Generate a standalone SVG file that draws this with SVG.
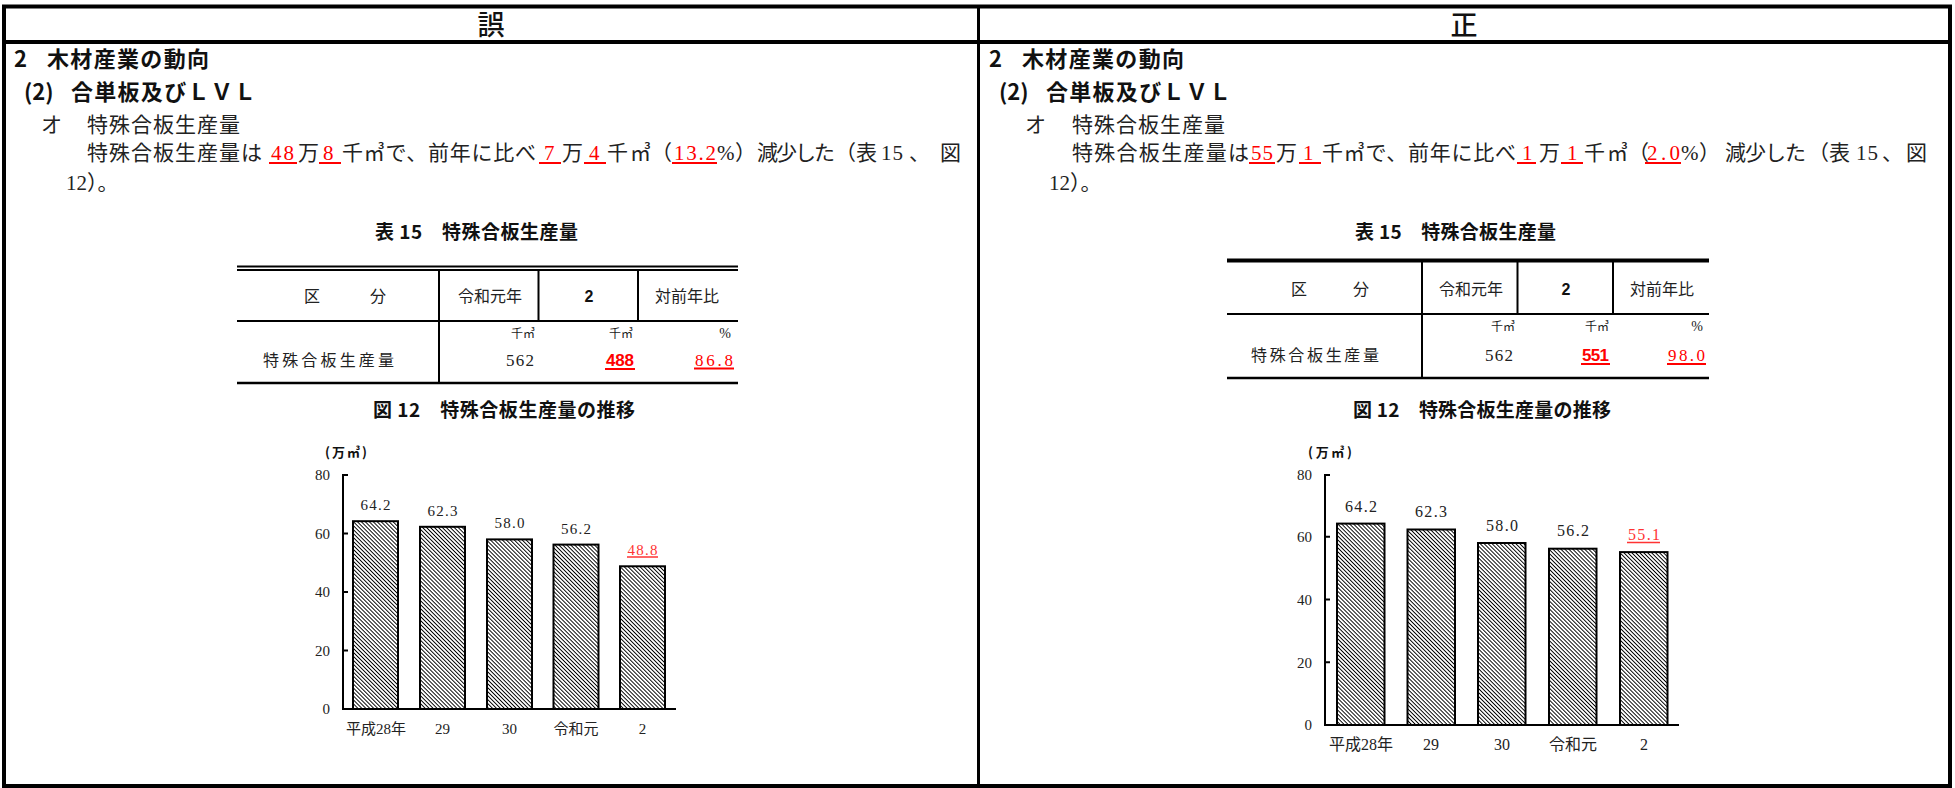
<svg xmlns="http://www.w3.org/2000/svg" width="1955" height="788" viewBox="0 0 1955 788">
<defs>
<style>
.g{font-family:"Noto Sans CJK JP",sans-serif;fill:#111}
.gb{font-family:"Noto Sans CJK JP",sans-serif;font-weight:700;fill:#111}
.m{font-family:"Liberation Serif","Noto Sans CJK JP",serif;fill:#222}
.r{fill:#f00}
.rc{fill:#f33}
.ul{stroke:#f00;stroke-width:2}
.ulc{stroke:#f33;stroke-width:1.5}
.ln{stroke:#000;fill:none}
.bar{fill:url(#hatch);stroke:#000;stroke-width:2}
.num{font-family:"Liberation Sans",sans-serif;font-weight:700}
</style>
<pattern id="hatch" width="2.8" height="2.8" patternUnits="userSpaceOnUse" patternTransform="rotate(-45)">
<rect width="2.8" height="2.8" fill="#fff"/>
<line x1="1.4" y1="0" x2="1.4" y2="2.8" stroke="#000" stroke-width="0.95"/>
</pattern>
</defs>
<rect width="1955" height="788" fill="#fff"/>

<g id="frame">
<rect x="4" y="6.5" width="1946" height="779.5" class="ln" stroke-width="4"/>
<line x1="4" y1="42" x2="1950" y2="42" class="ln" stroke-width="4"/>
<line x1="978.5" y1="6" x2="978.5" y2="786" class="ln" stroke-width="3"/>
</g>

<g id="header-left"><text x="491" y="35" text-anchor="middle" class="g" font-size="27" font-weight="500">誤</text></g>
<g id="header-right"><text x="1464" y="35" text-anchor="middle" class="g" font-size="27" font-weight="500">正</text></g>

<!-- LEFT PANEL -->
<g id="left-text">
<text class="gb" font-size="22" y="67"><tspan x="14">2</tspan><tspan x="47" textLength="162">木材産業の動向</tspan></text>
<text class="gb" font-size="22" y="100"><tspan x="24">(2)</tspan><tspan x="71" textLength="185">合単板及びＬＶＬ</tspan></text>
<text class="m" font-size="21" y="132"><tspan x="41">オ</tspan><tspan x="87" textLength="153">特殊合板生産量</tspan></text>
<text class="m" font-size="21" y="160"><tspan x="87" textLength="175">特殊合板生産量は</tspan><tspan x="271" class="r" textLength="23">48</tspan><tspan x="298">万</tspan><tspan x="323" class="r">8</tspan><tspan x="342" textLength="194">千㎥で、前年に比べ</tspan><tspan x="544" class="r">7</tspan><tspan x="562">万</tspan><tspan x="589" class="r">4</tspan><tspan x="607" textLength="44">千㎥</tspan><tspan x="651">（</tspan><tspan x="674" class="r" textLength="42">13.2</tspan><tspan x="717">%</tspan><tspan x="735">）</tspan><tspan x="757" textLength="78">減少した</tspan><tspan x="835">（表</tspan><tspan x="881" textLength="22">15</tspan><tspan x="909">、</tspan><tspan x="940">図</tspan></text>
<text class="m" font-size="21" y="190"><tspan x="66">12）。</tspan></text>
<g class="ul">
<line x1="269" y1="163" x2="297" y2="163"/>
<line x1="319" y1="163" x2="341" y2="163"/>
<line x1="539" y1="163" x2="561" y2="163"/>
<line x1="584" y1="163" x2="606" y2="163"/>
<line x1="672" y1="163" x2="717" y2="163"/>
</g>
</g>

<g id="left-table">
<text class="gb" font-size="19" x="375" y="239" textLength="203">表 15　特殊合板生産量</text>
<line x1="237" y1="266.5" x2="738" y2="266.5" class="ln" stroke-width="1.8"/>
<line x1="237" y1="270" x2="738" y2="270" class="ln" stroke-width="1.8"/>
<line x1="237" y1="321" x2="738" y2="321" class="ln" stroke-width="2"/>
<line x1="237" y1="383" x2="738" y2="383" class="ln" stroke-width="2.5"/>
<line x1="439" y1="270" x2="439" y2="383" class="ln" stroke-width="2"/>
<line x1="538.5" y1="270" x2="538.5" y2="321" class="ln" stroke-width="2"/>
<line x1="638" y1="270" x2="638" y2="321" class="ln" stroke-width="2"/>
<text class="m" font-size="16" y="302"><tspan x="304">区</tspan><tspan x="370">分</tspan></text>
<text class="m" font-size="16" y="302" x="490" text-anchor="middle">令和元年</text>
<text class="num" font-size="16" y="302" x="589" text-anchor="middle" fill="#111">2</text>
<text class="m" font-size="16" y="302" x="687" text-anchor="middle">対前年比</text>
<text class="m" font-size="12" y="338" x="535" text-anchor="end">千㎥</text>
<text class="m" font-size="12" y="338" x="633" text-anchor="end">千㎥</text>
<text class="m" font-size="14" y="338" x="731" text-anchor="end">%</text>
<text class="m" font-size="16" y="366" x="263" textLength="131">特殊合板生産量</text>
<text class="m" font-size="17" y="366" x="506" textLength="28">562</text>
<text class="num r" font-size="17" y="366" x="606" textLength="28">488</text>
<text class="m r" font-size="17" y="366" x="695" textLength="38">86.8</text>
<line x1="605" y1="369" x2="635" y2="369" class="ul"/>
<line x1="694" y1="368.5" x2="734" y2="368.5" class="ul"/>
</g>

<g id="left-chart">
<text class="gb" font-size="19" x="373" y="417" textLength="262">図 12　特殊合板生産量の推移</text>
<text class="gb" font-size="13" x="325" y="457" textLength="42">(万㎥)</text>
<g class="m" font-size="15" text-anchor="end">
<text x="330" y="480">80</text>
<text x="330" y="539">60</text>
<text x="330" y="597">40</text>
<text x="330" y="656">20</text>
<text x="330" y="714">0</text>
</g>
<rect class="bar" x="353" y="521.2" width="45" height="187.8"/>
<rect class="bar" x="420" y="526.8" width="45" height="182.2"/>
<rect class="bar" x="487" y="539.4" width="45" height="169.6"/>
<rect class="bar" x="553.5" y="544.6" width="45" height="164.4"/>
<rect class="bar" x="620" y="566.3" width="45" height="142.7"/>
<g class="ln" stroke-width="2">
<line x1="343" y1="474" x2="343" y2="710"/>
<line x1="342" y1="709" x2="676" y2="709"/>
<line x1="343" y1="475" x2="348" y2="475"/>
<line x1="343" y1="533.5" x2="348" y2="533.5"/>
<line x1="343" y1="592" x2="348" y2="592"/>
<line x1="343" y1="650.5" x2="348" y2="650.5"/>
</g>
<g class="m" font-size="15" text-anchor="middle">
<text x="375.5" y="510" textLength="30">64.2</text>
<text x="442.5" y="516" textLength="30">62.3</text>
<text x="509.5" y="528" textLength="30">58.0</text>
<text x="576" y="534" textLength="30">56.2</text>
<text x="642.5" y="555" textLength="30" class="rc">48.8</text>
<text x="376" y="734">平成28年</text>
<text x="442.5" y="734">29</text>
<text x="509.5" y="734">30</text>
<text x="576" y="734">令和元</text>
<text x="642.5" y="734">2</text>
</g>
<line x1="627" y1="557" x2="658" y2="557" class="ulc"/>
</g>

<!-- RIGHT PANEL -->
<g id="right-text">
<text class="gb" font-size="22" y="67"><tspan x="989">2</tspan><tspan x="1022" textLength="162">木材産業の動向</tspan></text>
<text class="gb" font-size="22" y="100"><tspan x="999">(2)</tspan><tspan x="1046" textLength="185">合単板及びＬＶＬ</tspan></text>
<text class="m" font-size="21" y="132"><tspan x="1025">オ</tspan><tspan x="1072" textLength="153">特殊合板生産量</tspan></text>
<text class="m" font-size="21" y="160"><tspan x="1072" textLength="177">特殊合板生産量は</tspan><tspan x="1251" class="r" textLength="22">55</tspan><tspan x="1276">万</tspan><tspan x="1303" class="r">1</tspan><tspan x="1322" textLength="194">千㎥で、前年に比べ</tspan><tspan x="1522" class="r">1</tspan><tspan x="1539">万</tspan><tspan x="1567" class="r">1</tspan><tspan x="1584" textLength="44">千㎥</tspan><tspan x="1628">（</tspan><tspan x="1647" class="r" textLength="33">2.0</tspan><tspan x="1681">%</tspan><tspan x="1699">）</tspan><tspan x="1725" textLength="81">減少した</tspan><tspan x="1808">（表</tspan><tspan x="1856" textLength="22">15</tspan><tspan x="1882">、</tspan><tspan x="1906">図</tspan></text>
<text class="m" font-size="21" y="190"><tspan x="1049">12）。</tspan></text>
<g class="ul">
<line x1="1249" y1="163" x2="1275" y2="163"/>
<line x1="1299" y1="163" x2="1321" y2="163"/>
<line x1="1517" y1="163" x2="1536" y2="163"/>
<line x1="1561" y1="163" x2="1583" y2="163"/>
<line x1="1645" y1="163" x2="1681" y2="163"/>
</g>
</g>

<g id="right-table">
<text class="gb" font-size="19" x="1355" y="239" textLength="201">表 15　特殊合板生産量</text>
<line x1="1227" y1="260.5" x2="1709" y2="260.5" class="ln" stroke-width="4"/>
<line x1="1227" y1="314" x2="1709" y2="314" class="ln" stroke-width="2"/>
<line x1="1227" y1="378" x2="1709" y2="378" class="ln" stroke-width="2.5"/>
<line x1="1422" y1="262" x2="1422" y2="378" class="ln" stroke-width="2"/>
<line x1="1517.5" y1="262" x2="1517.5" y2="314" class="ln" stroke-width="2"/>
<line x1="1613" y1="262" x2="1613" y2="314" class="ln" stroke-width="2"/>
<text class="m" font-size="16" y="295"><tspan x="1291">区</tspan><tspan x="1353">分</tspan></text>
<text class="m" font-size="16" y="295" x="1471" text-anchor="middle">令和元年</text>
<text class="num" font-size="16" y="295" x="1566" text-anchor="middle" fill="#111">2</text>
<text class="m" font-size="16" y="295" x="1662" text-anchor="middle">対前年比</text>
<text class="m" font-size="12" y="331" x="1515" text-anchor="end">千㎥</text>
<text class="m" font-size="12" y="331" x="1609" text-anchor="end">千㎥</text>
<text class="m" font-size="14" y="331" x="1703" text-anchor="end">%</text>
<text class="m" font-size="16" y="361" x="1251" textLength="128">特殊合板生産量</text>
<text class="m" font-size="17" y="361" x="1485" textLength="28">562</text>
<text class="num r" font-size="17" y="361" x="1582" textLength="27">551</text>
<text class="m r" font-size="17" y="361" x="1668" textLength="37">98.0</text>
<line x1="1581" y1="364" x2="1610" y2="364" class="ul"/>
<line x1="1667" y1="364" x2="1706" y2="364" class="ul"/>
</g>

<g id="right-chart">
<text class="gb" font-size="19" x="1353" y="417" textLength="258">図 12　特殊合板生産量の推移</text>
<text class="gb" font-size="13" x="1308" y="457" textLength="44">(万㎥)</text>
<g class="m" font-size="15" text-anchor="end">
<text x="1312" y="480">80</text>
<text x="1312" y="542">60</text>
<text x="1312" y="605">40</text>
<text x="1312" y="668">20</text>
<text x="1312" y="730">0</text>
</g>
<rect class="bar" x="1337" y="523.6" width="47.5" height="201.4"/>
<rect class="bar" x="1407.5" y="529.5" width="47.5" height="195.5"/>
<rect class="bar" x="1478" y="543" width="47.5" height="182"/>
<rect class="bar" x="1549" y="548.7" width="47.5" height="176.3"/>
<rect class="bar" x="1620" y="552.1" width="47.5" height="172.9"/>
<g class="ln" stroke-width="2">
<line x1="1325" y1="474" x2="1325" y2="726"/>
<line x1="1324" y1="725" x2="1679" y2="725"/>
<line x1="1325" y1="475" x2="1330" y2="475"/>
<line x1="1325" y1="536.75" x2="1330" y2="536.75"/>
<line x1="1325" y1="599.5" x2="1330" y2="599.5"/>
<line x1="1325" y1="662.25" x2="1330" y2="662.25"/>
</g>
<g class="m" font-size="16" text-anchor="middle">
<text x="1361" y="512" textLength="32">64.2</text>
<text x="1431" y="517" textLength="32">62.3</text>
<text x="1502" y="531" textLength="32">58.0</text>
<text x="1573" y="536" textLength="32">56.2</text>
<text x="1644" y="540" textLength="32" class="rc">55.1</text>
<text x="1361" y="750">平成28年</text>
<text x="1431" y="750">29</text>
<text x="1502" y="750">30</text>
<text x="1573" y="750">令和元</text>
<text x="1644" y="750">2</text>
</g>
<line x1="1627" y1="542.5" x2="1660" y2="542.5" class="ulc"/>
</g>
</svg>
